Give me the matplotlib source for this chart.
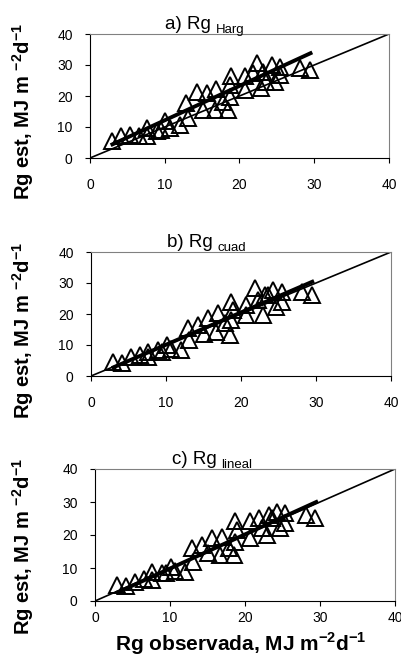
import matplotlib
matplotlib.use("Agg")
import matplotlib.pyplot as plt

# observed radiation (same days for the three models)
obs = [2.9, 4.1, 5.3, 6.5, 7.6, 7.6, 8.9, 9.5, 10.1, 10.7, 12.0, 12.9, 13.1,
       14.3, 15.1, 15.6, 16.7, 16.9, 17.8, 18.5, 18.7, 18.7, 18.9, 20.7,
       20.7, 21.8, 22.3, 22.9, 23.2, 23.6, 24.3, 24.7, 25.4, 25.4, 28.1, 29.4]

est_harg = [5.4, 7.0, 7.5, 7.2, 9.6, 7.0, 8.6, 9.0, 11.8, 9.6, 10.7, 17.7, 12.9,
            21.4, 15.5, 20.9, 15.5, 22.2, 18.2, 15.5, 23.6, 19.8, 26.3, 22.0,
            26.3, 27.3, 30.6, 22.5, 27.9, 24.6, 30.0, 24.6, 29.5, 26.8, 28.9, 28.4]

est_cuad = [4.5, 4.2, 6.2, 6.8, 7.8, 6.2, 8.3, 7.8, 9.9, 8.6, 8.3, 15.4, 11.6,
            16.4, 13.7, 18.6, 14.2, 20.2, 17.0, 13.2, 24.0, 18.1, 21.3, 22.9,
            19.7, 28.3, 24.5, 19.7, 26.2, 26.2, 27.8, 22.4, 27.2, 24.0, 27.2, 26.2]

est_lineal = [4.9, 4.4, 5.9, 6.6, 8.9, 6.4, 8.4, 8.4, 10.4, 9.0, 8.9, 16.0, 11.9,
              17.0, 14.5, 19.0, 14.0, 19.5, 16.0, 14.0, 24.1, 18.0, 21.6, 24.1,
              19.0, 25.1, 22.1, 20.0, 26.1, 25.1, 27.1, 22.1, 26.6, 23.6, 26.1, 25.1]

# regression lines (start/end)
fit_x = [3.0, 29.5]
fit_harg = [4.4, 33.8]
fit_cuad = [2.8, 30.4]
fit_lineal = [2.6, 30.0]

titles = ["a) Rg", "b) Rg", "c) Rg"]
subs = ["Harg", "cuad", "lineal"]
ticks = [0, 10, 20, 30, 40]

plt.rcParams["font.family"] = ["Liberation Sans", "DejaVu Sans"]
plt.rcParams["mathtext.fontset"] = "custom"
plt.rcParams["mathtext.rm"] = "Liberation Sans"
plt.rcParams["mathtext.bf"] = "Liberation Sans:bold"

fig = plt.figure(figsize=(4.02, 6.57), dpi=100)
boxes = [[90 / 402, 1 - 158 / 657, 299 / 402, 124 / 657],
         [91 / 402, 1 - 376 / 657, 300 / 402, 124 / 657],
         [95 / 402, 1 - 601 / 657, 300 / 402, 132 / 657]]
ylab_y = [112, 331, 547]
xpads = [11, 11, 4]
ests = [est_harg, est_cuad, est_lineal]
fits = [fit_harg, fit_cuad, fit_lineal]

for i in range(3):
    ax = fig.add_axes(boxes[i])
    ax.plot([0, 40], [0, 40], color="black", lw=1.2, zorder=2)
    ax.plot(fit_x, fits[i], color="black", lw=2.8, zorder=3)
    ax.plot(obs, ests[i], linestyle="none", marker="^", markersize=11,
            markerfacecolor="none", markeredgecolor="black", markeredgewidth=1.4, zorder=4)
    ax.set_xlim(0, 40)
    ax.set_ylim(0, 40)
    ax.set_xticks(ticks)
    ax.set_yticks(ticks)
    ax.tick_params(direction="out", length=3.5, width=0.8, labelsize=10)
    ax.tick_params(axis="y", pad=9)
    ax.tick_params(axis="x", pad=xpads[i])
    for s in ["top", "right"]:
        ax.spines[s].set_color("#808080")
    for s in ["left", "bottom"]:
        ax.spines[s].set_color("black")
    ax.text(0.405, 1.005, titles[i], transform=ax.transAxes, ha="right", va="bottom",
            fontsize=13.5)
    ax.text(0.42, 0.985, subs[i], transform=ax.transAxes, ha="left", va="bottom",
            fontsize=9.5)
    fig.text(0.057, 1 - ylab_y[i] / 657,
             r"Rg est, MJ m $^{\mathbf{-2}}$d$^{\mathbf{-1}}$",
             rotation=90, ha="center", va="center", fontsize=14.5, fontweight="bold")

fig.text(0.6, 1 - 644 / 657, r"Rg observada, MJ m$^{\mathbf{-2}}$d$^{\mathbf{-1}}$",
         ha="center", va="center", fontsize=15, fontweight="bold")

fig.savefig("out.png", dpi=100)
